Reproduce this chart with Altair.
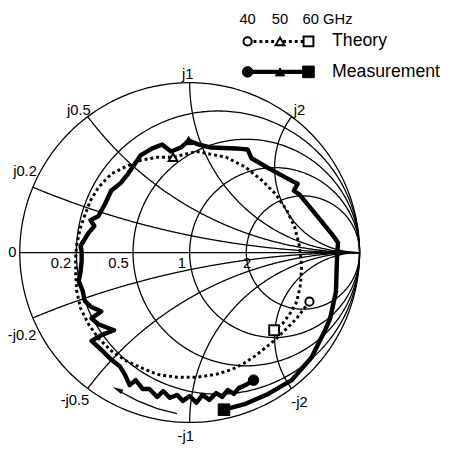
import altair as alt
import numpy as np
import pandas as pd

# ---------------- data (reflection coefficient) ----------------
theory_re = [0.705, 0.665, 0.630, 0.590, 0.549, 0.503, 0.445, 0.387, 0.318, 0.249,
             0.156, 0.040, -0.075, -0.191, -0.277, -0.376, -0.462, -0.538, -0.595, -0.642,
             -0.665, -0.671, -0.671, -0.665, -0.642, -0.613, -0.584, -0.538, -0.462, -0.382,
             -0.289, -0.191, -0.098, 0.040, 0.214, 0.329, 0.428, 0.503, 0.572, 0.618,
             0.647, 0.659, 0.653, 0.630, 0.595, 0.549, 0.497]
theory_im = [-0.289, -0.341, -0.387, -0.428, -0.468, -0.514, -0.561, -0.607, -0.653, -0.688,
             -0.717, -0.734, -0.734, -0.717, -0.682, -0.636, -0.578, -0.503, -0.422, -0.329,
             -0.225, -0.127, -0.029, 0.046, 0.150, 0.231, 0.306, 0.382, 0.462, 0.503,
             0.543, 0.561, 0.561, 0.595, 0.561, 0.503, 0.422, 0.347, 0.249, 0.150,
             0.035, -0.081, -0.185, -0.289, -0.353, -0.416, -0.457]

meas_re = [0.376, 0.329, 0.289, 0.260, 0.225, 0.191, 0.156, 0.116, 0.075, 0.040,
           0.000, -0.040, -0.075, -0.116, -0.156, -0.191, -0.237, -0.277, -0.318, -0.353,
           -0.382, -0.410, -0.462, -0.520, -0.578, -0.520, -0.445, -0.538, -0.578, -0.520,
           -0.584, -0.618, -0.630, -0.653, -0.642, -0.636, -0.636, -0.642, -0.595, -0.561,
           -0.584, -0.538, -0.497, -0.462, -0.405, -0.364, -0.324, -0.289, -0.220, -0.162,
           -0.110, -0.052, -0.006, 0.052, 0.127, 0.272, 0.341, 0.364, 0.474, 0.601,
           0.636, 0.613, 0.647, 0.746, 0.850, 0.873, 0.867, 0.861, 0.827, 0.792,
           0.717, 0.601, 0.462, 0.329, 0.202]
meas_im = [-0.751, -0.780, -0.798, -0.832, -0.809, -0.850, -0.827, -0.867, -0.838, -0.884,
           -0.844, -0.873, -0.838, -0.855, -0.815, -0.850, -0.803, -0.803, -0.751, -0.780,
           -0.717, -0.671, -0.630, -0.572, -0.520, -0.486, -0.457, -0.422, -0.387, -0.347,
           -0.318, -0.283, -0.225, -0.168, -0.110, -0.052, 0.006, 0.040, 0.116, 0.156,
           0.191, 0.214, 0.289, 0.364, 0.410, 0.462, 0.520, 0.572, 0.613, 0.636,
           0.595, 0.618, 0.659, 0.636, 0.618, 0.613, 0.607, 0.555, 0.491, 0.422,
           0.405, 0.364, 0.341, 0.220, 0.092, 0.058, -0.040, -0.231, -0.387, -0.468,
           -0.618, -0.751, -0.832, -0.890, -0.925]

freqs = ["40", "50", "60"]
marker_shapes = ["circle", "triangle-up", "square"]
theory_mk_re = [0.705, -0.098, 0.497]
theory_mk_im = [-0.289, 0.561, -0.457]
meas_mk_re = [0.376, -0.006, 0.202]
meas_mk_im = [-0.751, 0.659, -0.925]

r_ticks = [0, 0.2, 0.5, 1, 2]
r_tick_labels = ["0", "0.2", "0.5", "1", "2"]
x_ticks = [0.2, 0.5, 1, 2, -0.2, -0.5, -1, -2]
x_tick_labels = ["j0.2", "j0.5", "j1", "j2", "-j0.2", "-j0.5", "-j1", "-j2"]

# arrow (direction of increasing frequency), in reflection-coefficient units
arrow_re = [-0.075, -0.191, -0.306, -0.405]
arrow_im = [-0.948, -0.919, -0.873, -0.821]
arrow_tip_re = [-0.425]
arrow_tip_im = [-0.806]

# ---------------- layout ----------------
W, H = 445, 441
CX, CY, R = 185.0, 245.0, 173.0   # chart centre / unit radius in plot-area pixels
XDOM = [(0 - CX) / R, (W - CX) / R]
YDOM = [(CY - H) / R, (CY - 0) / R]
FONT = "Liberation Sans, Arial, Helvetica, sans-serif"

xs = alt.Scale(domain=XDOM, nice=False, zero=False)
ys = alt.Scale(domain=YDOM, nice=False, zero=False)
X = lambda f: alt.X(f, type="quantitative", scale=xs, axis=None)
Y = lambda f: alt.Y(f, type="quantitative", scale=ys, axis=None)

# ---------------- Smith chart grid ----------------
rows = []
cid = 0
th = np.linspace(0, 2 * np.pi, 361)
for r in r_ticks:
    c, rad = r / (1 + r), 1 / (1 + r)
    for i, t in enumerate(th):
        rows.append((cid, i, c + rad * np.cos(t), rad * np.sin(t)))
    cid += 1
tt = np.linspace(0, np.pi / 2, 300)[:-1]
for xv in x_ticks:
    rr = np.tan(tt)
    z = rr + 1j * xv
    g = (z - 1) / (z + 1)
    for i, gv in enumerate(g):
        rows.append((cid, i, gv.real, gv.imag))
    rows.append((cid, len(g), 1.0, 0.0))
    cid += 1
rows.append((cid, 0, -1.0, 0.0))
rows.append((cid, 1, 1.0, 0.0))
grid = pd.DataFrame(rows, columns=["curve", "idx", "gr", "gi"])

grid_layer = alt.Chart(grid).mark_line(color="black", strokeWidth=1.3).encode(
    x=X("gr"), y=Y("gi"), detail="curve:N", order="idx:Q"
)

# tick labels
rl_off = [(-7.5, 0), (-15.7, 11), (-14.8, 11), (-8, 11), (0.8, 11)]
rlab = pd.DataFrame({
    "t": r_tick_labels,
    "gr": [(r - 1) / (r + 1) + o[0] / R for r, o in zip(r_ticks, rl_off)],
    "gi": [-o[1] / R for o in rl_off],
})
xl_off = [(-8, -16), (-9, -7), (-2, -9), (8, -7), (-11, 18), (-13, 12), (-4, 14), (8, 14)]
xlab = pd.DataFrame({
    "t": x_tick_labels,
    "gr": [(x * x - 1) / (x * x + 1) + o[0] / R for x, o in zip(x_ticks, xl_off)],
    "gi": [2 * x / (x * x + 1) - o[1] / R for x, o in zip(x_ticks, xl_off)],
})
labs = pd.concat([rlab, xlab])
label_layer = alt.Chart(labs).mark_text(
    font=FONT, fontSize=15, color="black", align="center", baseline="middle"
).encode(x=X("gr"), y=Y("gi"), text="t:N")

# ---------------- traces ----------------
th_df = pd.DataFrame({"gr": theory_re, "gi": theory_im, "i": range(len(theory_re))})
me_df = pd.DataFrame({"gr": meas_re, "gi": meas_im, "i": range(len(meas_re))})

theory_line = alt.Chart(th_df).mark_line(
    color="black", strokeWidth=3, strokeDash=[3, 3]
).encode(x=X("gr"), y=Y("gi"), order="i:Q")
meas_line = alt.Chart(me_df).mark_line(
    color="black", strokeWidth=4.5, strokeJoin="round"
).encode(x=X("gr"), y=Y("gi"), order="i:Q")

tmk = pd.DataFrame({"gr": theory_mk_re, "gi": theory_mk_im, "f": freqs, "shape": marker_shapes,
                    "size": [70, 80, 100]})
mmk = pd.DataFrame({"gr": meas_mk_re, "gi": meas_mk_im, "f": freqs, "shape": marker_shapes,
                    "size": [115, 90, 140]})
shape_scale = alt.Scale(domain=marker_shapes, range=marker_shapes)
theory_pts = alt.Chart(tmk).mark_point(
    filled=True, fill="white", stroke="black", strokeWidth=2, opacity=1
).encode(x=X("gr"), y=Y("gi"),
         shape=alt.Shape("shape:N", scale=shape_scale, legend=None),
         size=alt.Size("size:Q", scale=None, legend=None))
meas_pts = alt.Chart(mmk).mark_point(
    filled=True, fill="black", stroke="black", strokeWidth=1, opacity=1
).encode(x=X("gr"), y=Y("gi"),
         shape=alt.Shape("shape:N", scale=shape_scale, legend=None),
         size=alt.Size("size:Q", scale=None, legend=None))

# arrow
ar_df = pd.DataFrame({"gr": arrow_re, "gi": arrow_im, "i": range(len(arrow_re))})
arrow_line = alt.Chart(ar_df).mark_line(color="black", strokeWidth=1.3).encode(
    x=X("gr"), y=Y("gi"), order="i:Q")
arrow_head = alt.Chart(pd.DataFrame({"gr": arrow_tip_re, "gi": arrow_tip_im})).mark_point(
    shape="M0,-1L0.45,1L-0.45,1Z", filled=True, color="black", size=120, angle=297, opacity=1
).encode(x=X("gr"), y=Y("gi"))

# ---------------- legend (pixel layout) ----------------
one = pd.DataFrame({"d": [0]})
LX = [244, 277, 306]
ROW_T, ROW_M = 30, 61
leg = []
for xx, f in zip(LX[:2], freqs[:2]):
    leg.append(alt.Chart(one).mark_text(text=f, font=FONT, fontSize=15, align="center",
                                        baseline="middle", color="black")
               .encode(x=alt.value(xx), y=alt.value(7)))
leg.append(alt.Chart(one).mark_text(text=freqs[2] + " GHz", font=FONT, fontSize=15, align="left",
                                    baseline="middle", color="black")
           .encode(x=alt.value(300), y=alt.value(7)))
leg.append(alt.Chart(one).mark_rule(color="black", strokeWidth=3, strokeDash=[3, 3])
           .encode(x=alt.value(250), x2=alt.value(301), y=alt.value(ROW_T)))
leg.append(alt.Chart(one).mark_rule(color="black", strokeWidth=4.5)
           .encode(x=alt.value(246), x2=alt.value(304), y=alt.value(ROW_M)))
for xx, sh, s1, s2 in zip(LX, marker_shapes, [70, 80, 100], [115, 90, 140]):
    leg.append(alt.Chart(one).mark_point(shape=sh, filled=True, fill="white", stroke="black",
                                         strokeWidth=2, size=s1, opacity=1)
               .encode(x=alt.value(xx), y=alt.value(ROW_T)))
    leg.append(alt.Chart(one).mark_point(shape=sh, filled=True, fill="black", stroke="black",
                                         strokeWidth=1, size=s2, opacity=1)
               .encode(x=alt.value(xx), y=alt.value(ROW_M)))
leg.append(alt.Chart(one).mark_text(text="Theory", font=FONT, fontSize=18, align="left",
                                    baseline="middle", color="black")
           .encode(x=alt.value(330), y=alt.value(ROW_T)))
leg.append(alt.Chart(one).mark_text(text="Measurement", font=FONT, fontSize=18, align="left",
                                    baseline="middle", color="black")
           .encode(x=alt.value(330), y=alt.value(ROW_M)))

chart = alt.layer(
    grid_layer, label_layer, theory_line, meas_line, theory_pts, meas_pts,
    arrow_line, arrow_head, *leg
).properties(
    width=W, height=H, padding=0, autosize=alt.AutoSizeParams(type="none"),
    background="white"
).configure_view(stroke=None)

chart.save("out.html", embed_options={"renderer": "svg", "actions": False})
